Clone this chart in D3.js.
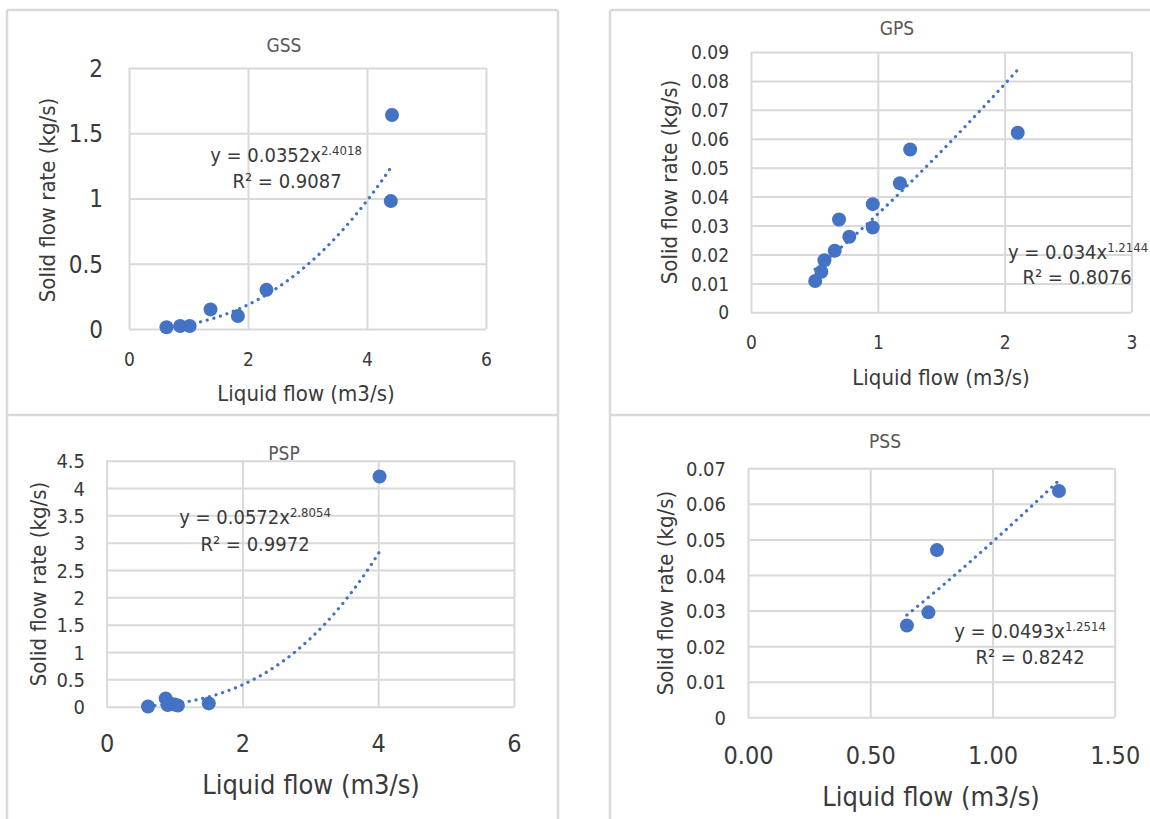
<!DOCTYPE html>
<html><head><meta charset="utf-8">
<script src="https://cdn.jsdelivr.net/npm/d3@7"></script>
<style>
body{margin:0;background:#fff;}
svg text{font-family:"DejaVu Sans Condensed","DejaVu Sans",sans-serif;font-stretch:condensed;}
</style></head><body>
<svg id="c" width="1150" height="819"></svg>
<script>
// ---------- data ----------
const titles = ["GSS", "GPS", "PSP", "PSS"];
const gssFlow  = [0.63, 0.86, 1.02, 1.37, 1.83, 2.31, 4.42, 4.40];
const gssSolid = [0.013, 0.023, 0.023, 0.15, 0.10, 0.30, 1.64, 0.98];
const gpsFlow  = [0.506, 0.555, 0.579, 0.66, 0.694, 0.775, 0.96, 0.96, 1.174, 1.255, 2.103];
const gpsSolid = [0.0108, 0.014, 0.018, 0.0213, 0.0321, 0.0261, 0.0374, 0.0293, 0.0446, 0.0563, 0.0621];
const pspFlow  = [0.61, 0.87, 0.90, 0.95, 1.00, 1.05, 1.505, 4.02];
const pspSolid = [0.005, 0.15, 0.03, 0.05, 0.04, 0.02, 0.06, 4.21];
const pssFlow  = [0.65, 0.738, 0.773, 1.272];
const pssSolid = [0.0258, 0.0295, 0.047, 0.0636];
const trendA = [0.0352, 0.034, 0.0572, 0.0493];
const trendB = [2.4018, 1.2144, 2.8054, 1.2514];
const eqCoef = ["y = 0.0352x", "y = 0.034x", "y = 0.0572x", "y = 0.0493x"];
const eqExp  = ["2.4018", "1.2144", "2.8054", "1.2514"];
const eqR2   = ["R² = 0.9087", "R² = 0.8076", "R² = 0.9972", "R² = 0.8242"];
const xTickVals = [[0, 2, 4, 6], [0, 1, 2, 3], [0, 2, 4, 6], [0, 0.5, 1, 1.5]];
const xTickLabels = [["0", "2", "4", "6"], ["0", "1", "2", "3"], ["0", "2", "4", "6"], ["0.00", "0.50", "1.00", "1.50"]];
const yTickVals = [
  [0, 0.5, 1, 1.5, 2],
  [0, 0.01, 0.02, 0.03, 0.04, 0.05, 0.06, 0.07, 0.08, 0.09],
  [0, 0.5, 1, 1.5, 2, 2.5, 3, 3.5, 4, 4.5],
  [0, 0.01, 0.02, 0.03, 0.04, 0.05, 0.06, 0.07]
];
const yTickLabels = [
  ["0", "0.5", "1", "1.5", "2"],
  ["0", "0.01", "0.02", "0.03", "0.04", "0.05", "0.06", "0.07", "0.08", "0.09"],
  ["0", "0.5", "1", "1.5", "2", "2.5", "3", "3.5", "4", "4.5"],
  ["0", "0.01", "0.02", "0.03", "0.04", "0.05", "0.06", "0.07"]
];
const xTitle = "Liquid flow (m3/s)";
const yTitle = "Solid flow rate (kg/s)";
const seriesX = [gssFlow, gpsFlow, pspFlow, pssFlow];
const seriesY = [gssSolid, gpsSolid, pspSolid, pssSolid];

// ---------- layout ----------
const layout = [
  {l:129, r:486, t:68, b:329, yTickX:103, yTickFs:24, xTickY:359, xTickFs:19, title:[284,45], xT:[306,393], xTFs:22, yT:[47,200], eq:[286,155,287,181]},
  {l:751, r:1131.5, t:52, b:312.3, yTickX:729, yTickFs:19, xTickY:342, xTickFs:19, title:[897,28], xT:[941,377], xTFs:22, yT:[669,182], eq:[1078,252,1077,277]},
  {l:106.6, r:514, t:460.7, b:706.7, yTickX:85, yTickFs:20, xTickY:743, xTickFs:25, title:[284,453], xT:[311,785], xTFs:27, yT:[38,584], eq:[255,517,255,544]},
  {l:748, r:1114.7, t:468.3, b:717.3, yTickX:726, yTickFs:20, xTickY:755, xTickFs:25, title:[885,441], xT:[931,797], xTFs:27, yT:[665,593], eq:[1030,631,1030,657]}
];
const BLUE = "#4472C4", GRID = "#d9d9d9", TXT = "#3a3a3a";

const svg = d3.select("#c");
svg.append("rect").attr("width",1150).attr("height",819).attr("fill","#fff");

// panel borders
const border = svg.append("g").attr("stroke", GRID).attr("stroke-width", 2.5).attr("fill","none");
[[7,10,7,819],[558,10,558,819],[610,10,610,819],[7,10,558,10],[610,10,1150,10],[7,415,558,415],[610,415,1150,415]]
  .forEach(d => border.append("line").attr("x1",d[0]).attr("y1",d[1]).attr("x2",d[2]).attr("y2",d[3]));

layout.forEach((L, i) => {
  const g = svg.append("g");
  const xs = d3.scaleLinear().domain(d3.extent(xTickVals[i])).range([L.l, L.r]);
  const ys = d3.scaleLinear().domain(d3.extent(yTickVals[i])).range([L.b, L.t]);
  const W = L.r - L.l, H = L.b - L.t;

  // y axis + horizontal grid
  const ya = d3.axisLeft(ys).tickValues(yTickVals[i])
    .tickFormat((d, k) => yTickLabels[i][k]).tickSize(-W).tickPadding(L.l - L.yTickX);
  const gy = g.append("g").attr("transform", `translate(${L.l},0)`).call(ya);
  gy.select(".domain").remove();
  gy.selectAll("line").attr("stroke", GRID).attr("stroke-width", 2);
  gy.selectAll("text").attr("fill", TXT).attr("font-size", L.yTickFs).attr("dy", "0.35em");

  // x axis + vertical grid
  const xa = d3.axisBottom(xs).tickValues(xTickVals[i])
    .tickFormat((d, k) => xTickLabels[i][k]).tickSize(-H).tickPadding(L.xTickY - L.b - 0.35 * L.xTickFs);
  const gx = g.append("g").attr("transform", `translate(0,${L.b})`).call(xa);
  gx.select(".domain").remove();
  gx.selectAll("line").attr("stroke", GRID).attr("stroke-width", 2);
  gx.selectAll("text").attr("fill", TXT).attr("font-size", L.xTickFs);

  // points
  const pts = seriesX[i].map((x, k) => [x, seriesY[i][k]]);
  g.append("g").selectAll("circle").data(pts).join("circle")
    .attr("cx", d => xs(d[0])).attr("cy", d => ys(d[1])).attr("r", 7).attr("fill", BLUE);

  // power trendline
  const [x0, x1] = d3.extent(seriesX[i]);
  const tr = d3.range(0, 81).map(k => { const x = x0 + (x1 - x0) * k / 80; return [x, trendA[i] * Math.pow(x, trendB[i])]; });
  g.append("path").attr("d", d3.line().x(d => xs(d[0])).y(d => ys(d[1]))(tr))
    .attr("fill", "none").attr("stroke", BLUE).attr("stroke-width", 3.2)
    .attr("stroke-linecap", "round").attr("stroke-dasharray", "0.1 6.8");

  // equation
  const e1 = g.append("text").attr("x", L.eq[0]).attr("y", L.eq[1]).attr("dy", "0.35em")
    .attr("text-anchor", "middle").attr("fill", TXT).attr("font-size", 20);
  e1.append("tspan").text(eqCoef[i]);
  e1.append("tspan").attr("font-size", 13).attr("dy", "-0.55em").text(eqExp[i]);
  g.append("text").attr("x", L.eq[2]).attr("y", L.eq[3]).attr("dy", "0.35em")
    .attr("text-anchor", "middle").attr("fill", TXT).attr("font-size", 20).text(eqR2[i]);

  // titles
  g.append("text").attr("x", L.title[0]).attr("y", L.title[1]).attr("dy", "0.35em")
    .attr("text-anchor", "middle").attr("fill", "#595959").attr("font-size", 19).text(titles[i]);
  g.append("text").attr("x", L.xT[0]).attr("y", L.xT[1]).attr("dy", "0.35em")
    .attr("text-anchor", "middle").attr("fill", TXT).attr("font-size", L.xTFs).text(xTitle);
  g.append("text").attr("transform", `translate(${L.yT[0]},${L.yT[1]}) rotate(-90)`).attr("dy", "0.35em")
    .attr("text-anchor", "middle").attr("fill", TXT).attr("font-size", 22).text(yTitle);
});
</script>
</body></html>
